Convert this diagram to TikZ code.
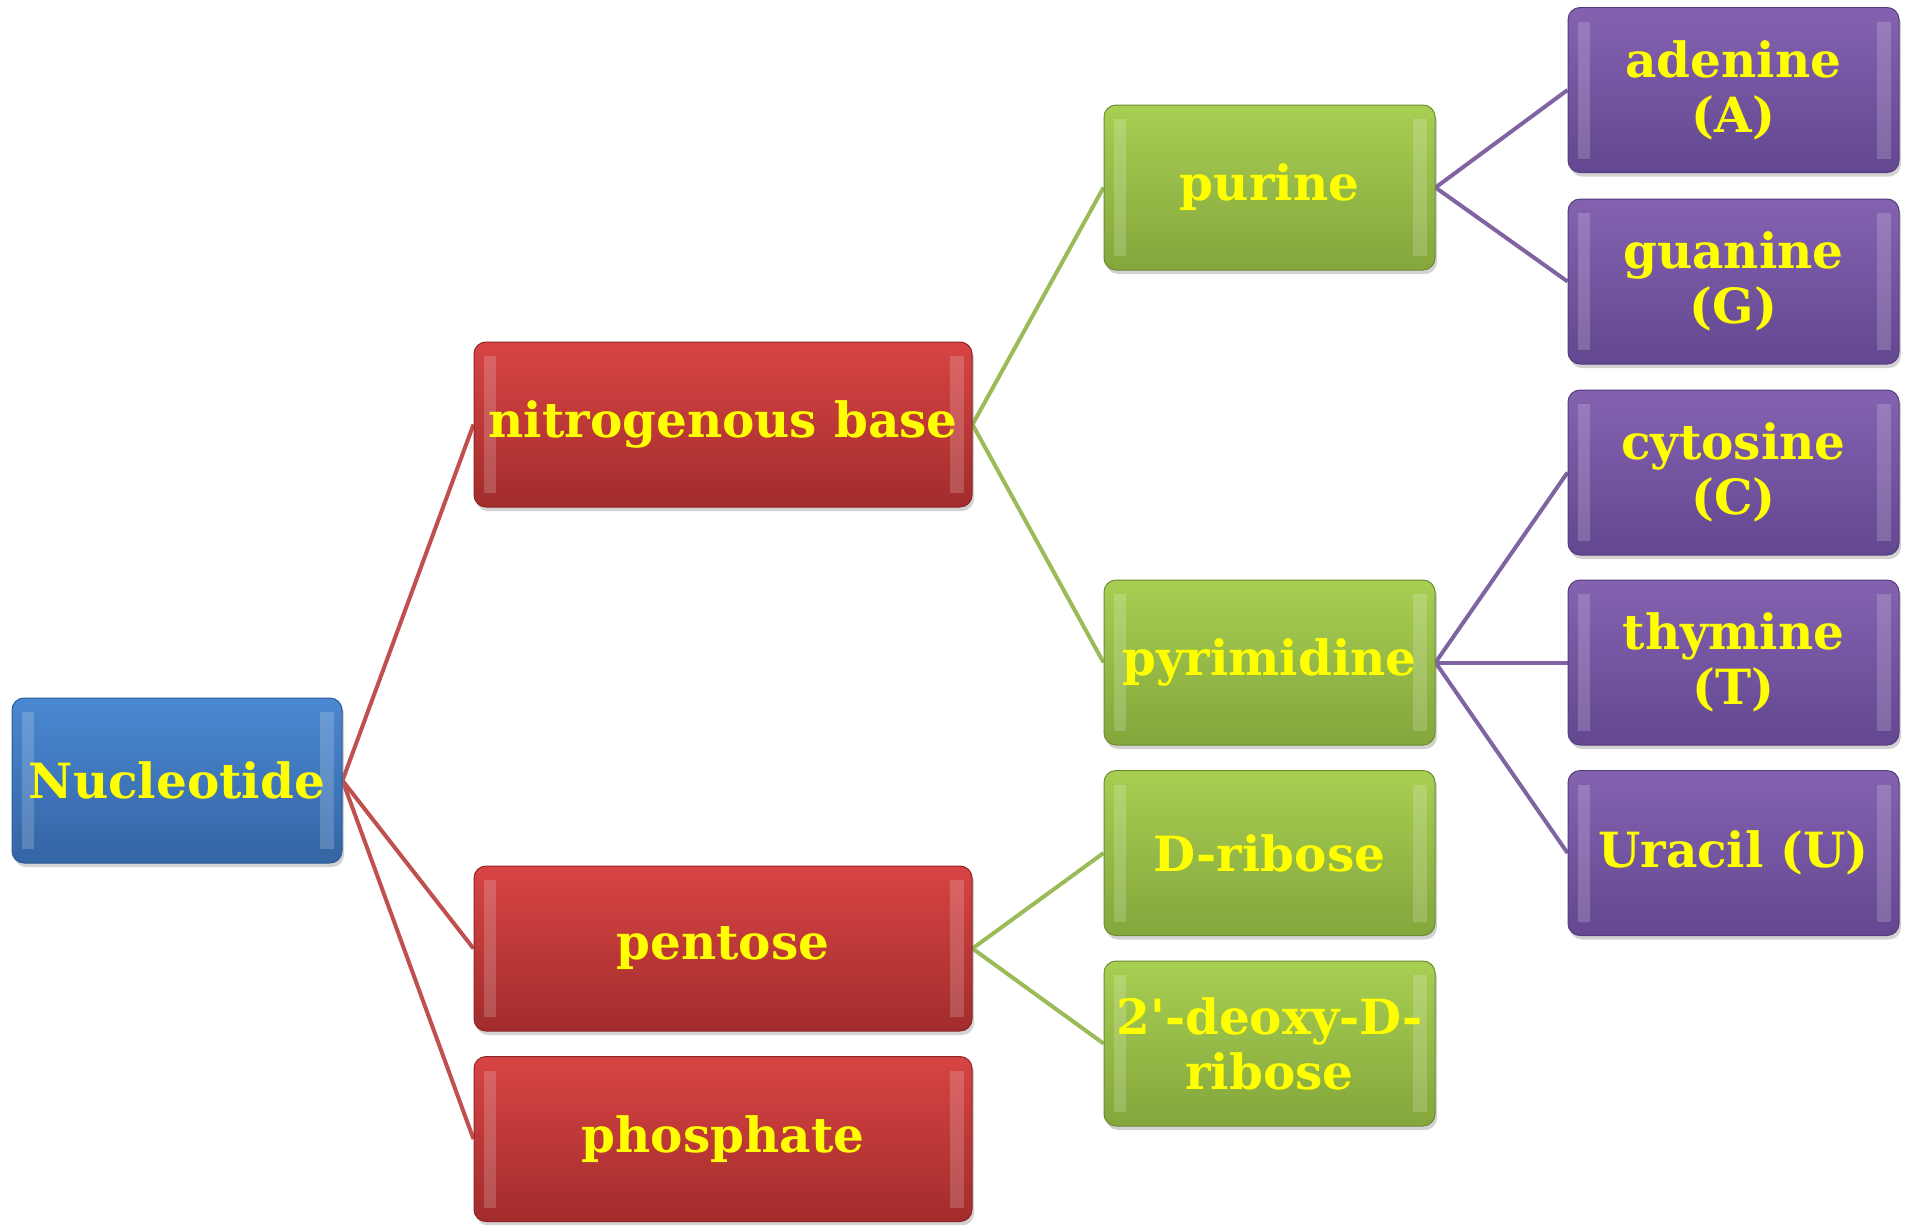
\documentclass[tikz,border=0pt]{standalone}
\usepackage{fontspec}
\setmainfont{DejaVu Serif}[Ligatures=TeXOff]
\usetikzlibrary{shadows,backgrounds}
\definecolor{cyel}{HTML}{FFFF00}
\definecolor{bTop}{HTML}{4A88D2}\definecolor{bBot}{HTML}{3465A4}\definecolor{bEdge}{HTML}{2E5B94}
\definecolor{rTop}{HTML}{D84444}\definecolor{rBot}{HTML}{A22C2C}\definecolor{rEdge}{HTML}{8E2424}
\definecolor{gTop}{HTML}{A8CE52}\definecolor{gBot}{HTML}{84A63C}\definecolor{gEdge}{HTML}{6E8C30}
\definecolor{pTop}{HTML}{8462B0}\definecolor{pBot}{HTML}{634790}\definecolor{pEdge}{HTML}{553C7C}
\definecolor{lRed}{HTML}{C0504D}\definecolor{lGreen}{HTML}{9BBB59}\definecolor{lPurple}{HTML}{8064A2}
\tikzset{
  box/.style={rectangle, rounded corners=12pt, minimum height=165pt, inner sep=0pt,
    align=center, text=cyel, font=\bfseries\fontsize{48.5}{55}\selectfont,
    draw=#1Edge, line width=1pt, top color=#1Top, bottom color=#1Bot,
    drop shadow={shadow xshift=2pt, shadow yshift=-4pt, opacity=0.35},
    path picture={
      \fill[sharp corners,white,opacity=0.18] ([xshift=10pt,yshift=-14pt]path picture bounding box.north west) rectangle ([xshift=22pt,yshift=14pt]path picture bounding box.south west);
      \fill[sharp corners,white,opacity=0.18] ([xshift=-22pt,yshift=-14pt]path picture bounding box.north east) rectangle ([xshift=-8pt,yshift=14pt]path picture bounding box.south east);
    }},
  conn/.style={line width=4pt, draw=#1}
}
\begin{document}
\begin{tikzpicture}[x=1pt,y=-1pt]
\useasboundingbox (0,0) rectangle (1910,1224);
% boxes
\node[box=b, minimum width=330pt] (nuc) at (177,780.5) {Nucleotide};
\node[box=r, minimum width=498pt] (nb) at (723,424.5) {nitrogenous base};
\node[box=r, minimum width=498pt] (pe) at (723,948.5) {pentose};
\node[box=r, minimum width=498pt] (ph) at (723,1139) {phosphate};
\node[box=g, minimum width=331pt] (pu) at (1269.5,187.5) {purine};
\node[box=g, minimum width=331pt] (py) at (1269.5,662.5) {pyrimidine};
\node[box=g, minimum width=331pt] (dr) at (1269.5,853) {D-ribose};
\node[box=g, minimum width=331pt] (dd) at (1269.5,1043.5) {2'-deoxy-D-\\ribose};
\node[box=p, minimum width=331pt] (ad) at (1733.5,90) {adenine\\(A)};
\node[box=p, minimum width=331pt] (gu) at (1733.5,281.5) {guanine\\(G)};
\node[box=p, minimum width=331pt] (cy) at (1733.5,472.5) {cytosine\\(C)};
\node[box=p, minimum width=331pt] (th) at (1733.5,662.5) {thymine\\(T)};
\node[box=p, minimum width=331pt] (ur) at (1733.5,853) {Uracil (U)};
% connectors behind boxes
\begin{scope}[on background layer]
\draw[conn=lRed] (nuc.east) -- (nb.west);
\draw[conn=lRed] (nuc.east) -- (pe.west);
\draw[conn=lRed] (nuc.east) -- (ph.west);
\draw[conn=lGreen] (nb.east) -- (pu.west);
\draw[conn=lGreen] (nb.east) -- (py.west);
\draw[conn=lGreen] (pe.east) -- (dr.west);
\draw[conn=lGreen] (pe.east) -- (dd.west);
\draw[conn=lPurple] (pu.east) -- (ad.west);
\draw[conn=lPurple] (pu.east) -- (gu.west);
\draw[conn=lPurple] (py.east) -- (cy.west);
\draw[conn=lPurple] (py.east) -- (th.west);
\draw[conn=lPurple] (py.east) -- (ur.west);
\end{scope}
\end{tikzpicture}
\end{document}
